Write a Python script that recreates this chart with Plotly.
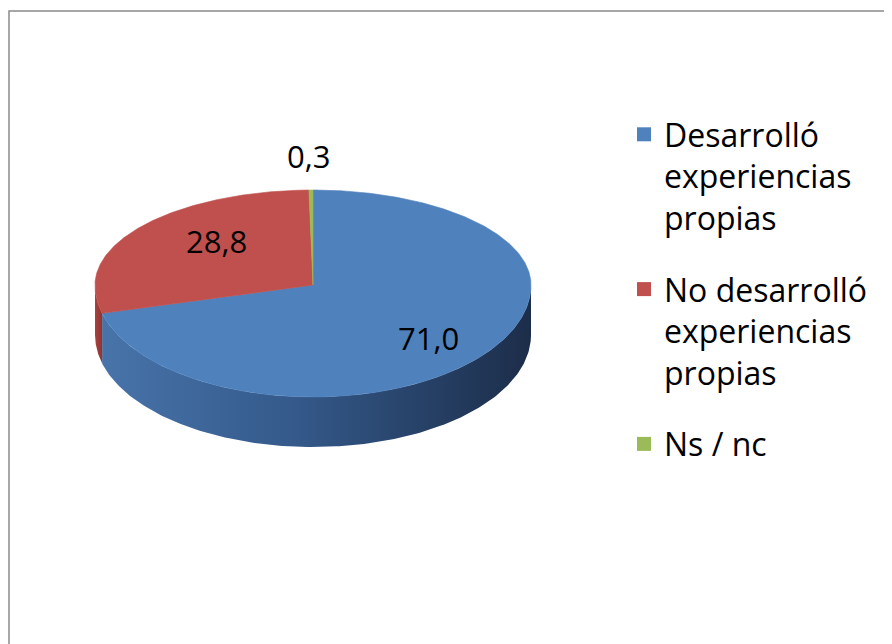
import math
import textwrap
import numpy as np
import plotly.graph_objects as go

# ---------------- data ----------------
categories = ["Desarrolló experiencias propias",
              "No desarrolló experiencias propias",
              "Ns / nc"]
values = [71.0, 28.8, 0.3]

# ---------------- styling / geometry (layout constants) ----------------
top_colors = ["#4F81BD", "#C0504D", "#9BBB59"]
side_scales = [
    [[0, "#4874AA"], [0.45, "#34598A"], [1, "#1C2D49"]],
    [[0, "#A9413E"], [1, "#8E3532"]],
    [[0, "#7F9B48"], [1, "#6A823B"]],
]
W, H = 892, 644
OFF = 8  # default page body margin: shift axes so data units equal screen pixels
CX, CY = 313, 285
RX, RY_BACK, RY_FRONT, DEPTH = 218, 95, 112, 50
FONT = "Open Sans"
FS_LABEL = 31
FS_LEGEND = 32


def ell(theta_deg, dy=0.0):
    t = np.radians(theta_deg)
    c = np.cos(t)
    ry = np.where(c > 0, RY_BACK, RY_FRONT)
    return CX + RX * np.sin(t), CY - ry * c + dy


total = sum(values)
angles = np.concatenate([[0], np.cumsum(values) / total * 360.0])

fig = go.Figure()

# side walls (visible front half: 90..270 degrees clockwise from 12 o'clock)
for i, v in enumerate(values):
    a1, a2 = max(angles[i], 90.0), min(angles[i + 1], 270.0)
    if a1 >= a2:
        continue
    th = np.linspace(a1, a2, 200)
    xt, yt = ell(th)
    xb, yb = ell(th[::-1], DEPTH)
    fig.add_trace(go.Scatter(
        x=np.concatenate([xt, xb, xt[:1]]), y=np.concatenate([yt, yb, yt[:1]]),
        mode="lines", fill="toself", line=dict(width=0),
        fillgradient=dict(type="horizontal", colorscale=side_scales[i]),
        hoverinfo="skip", showlegend=False))

# top faces
for i, v in enumerate(values):
    th = np.linspace(angles[i], angles[i + 1], max(int(abs(angles[i + 1] - angles[i]) * 2), 4))
    xt, yt = ell(th)
    fig.add_trace(go.Scatter(
        x=np.concatenate([[CX], xt, [CX]]), y=np.concatenate([[CY], yt, [CY]]),
        mode="lines", fill="toself", fillcolor=top_colors[i],
        line=dict(width=0.6, color=top_colors[i]),
        hoverinfo="skip", showlegend=False))

# data labels
for i, v in enumerate(values):
    mid = (angles[i] + angles[i + 1]) / 2
    t = math.radians(mid)
    c = math.cos(t)
    ry = RY_BACK if c > 0 else RY_FRONT
    if v / total < 0.02:
        lx, ly = CX + RX * math.sin(t) - 2, CY - ry * c * 1.36
    else:
        lx, ly = CX + RX * math.sin(t) * 0.61 + 10, CY - ry * c * 0.77
    fig.add_annotation(x=lx, y=ly, text=f"{v:.1f}".replace(".", ","),
                       showarrow=False, font=dict(family=FONT, size=FS_LABEL, color="#000000"),
                       xanchor="center", yanchor="middle")

# legend entries
for i, name in enumerate(categories):
    fig.add_trace(go.Scatter(
        x=[None], y=[None], mode="markers",
        marker=dict(symbol="square", size=14, color=top_colors[i], line=dict(width=0)),
        name="<br>".join(textwrap.wrap(name, 13)), legendgroup=f"g{i}",
        showlegend=True))

# chart frame (only top/left edges visible in the crop)
fig.add_shape(type="rect", xref="x", yref="y", x0=9, y0=11, x1=W + 40, y1=H + 40,
              line=dict(color="#8A8A8A", width=1.5), fillcolor="rgba(0,0,0,0)", layer="above")

fig.update_layout(
    width=W, height=H, margin=dict(l=0, r=0, t=0, b=0),
    paper_bgcolor="white", plot_bgcolor="white",
    xaxis=dict(range=[OFF, W + OFF], visible=False, fixedrange=True),
    yaxis=dict(range=[H + OFF, OFF], visible=False, fixedrange=True),
    showlegend=True,
    legend=dict(x=(624 - OFF) / W, y=1 - (107 - OFF) / H, xanchor="left", yanchor="top",
                valign="top", font=dict(family=FONT, size=FS_LEGEND, color="#000000"),
                tracegroupgap=27, bgcolor="rgba(0,0,0,0)", itemsizing="trace"),
)

fig.write_html("out.html")
